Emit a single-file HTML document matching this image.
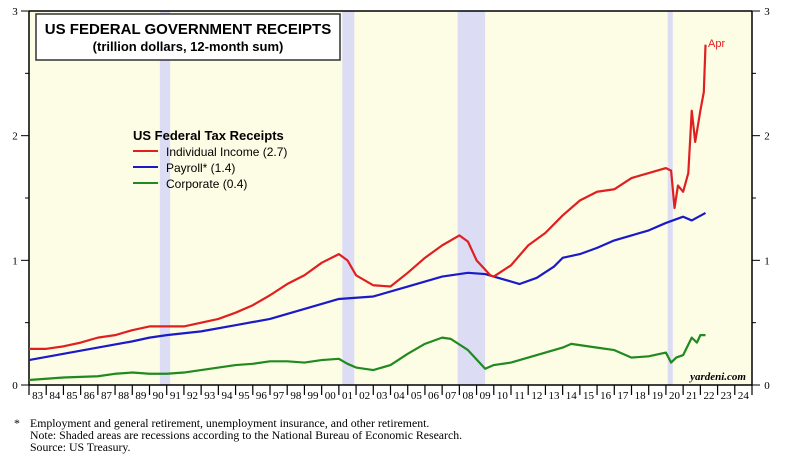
<!DOCTYPE html>
<html><head><meta charset="utf-8"><style>
body{margin:0;background:#fff;width:800px;height:457px;overflow:hidden;font-family:"Liberation Sans",sans-serif}
svg text{font-family:"Liberation Serif",serif}
</style></head><body>
<svg id="chart" width="800" height="457">
<rect x="29" y="11" width="723" height="374" fill="#fdfde6"/>
<g id="rec"></g><g id="axes"></g><g id="lines"></g>
<rect x="36" y="14" width="304" height="46" fill="#fff" stroke="#333" stroke-width="1.5"/>
<text x="188" y="34" text-anchor="middle" style="font-family:'Liberation Sans',sans-serif;font-weight:bold;font-size:15px">US FEDERAL GOVERNMENT RECEIPTS</text>
<text x="188" y="51" text-anchor="middle" style="font-family:'Liberation Sans',sans-serif;font-weight:bold;font-size:13px">(trillion dollars, 12-month sum)</text>
<g style="font-family:'Liberation Sans',sans-serif">
<text x="133" y="140" style="font-family:'Liberation Sans',sans-serif;font-weight:bold;font-size:13px">US Federal Tax Receipts</text>
<line x1="133" y1="151" x2="158" y2="151" stroke="#e02020" stroke-width="2"/>
<text x="166" y="156" style="font-family:'Liberation Sans',sans-serif;font-size:12px">Individual Income (2.7)</text>
<line x1="133" y1="167" x2="158" y2="167" stroke="#1a1ac8" stroke-width="2"/>
<text x="166" y="172" style="font-family:'Liberation Sans',sans-serif;font-size:12px">Payroll* (1.4)</text>
<line x1="133" y1="183" x2="158" y2="183" stroke="#208a20" stroke-width="2"/>
<text x="166" y="188" style="font-family:'Liberation Sans',sans-serif;font-size:12px">Corporate (0.4)</text>
</g>
<text x="708" y="47" fill="#e02020" style="font-family:'Liberation Sans',sans-serif;font-size:11px">Apr</text>
<text x="746" y="380" text-anchor="end" style="font-weight:bold;font-style:italic;font-size:11px">yardeni.com</text>
<g font-size="11.8px">
<text x="14" y="427">*</text>
<text x="30" y="427">Employment and general retirement, unemployment insurance, and other retirement.</text>
<text x="30" y="439">Note: Shaded areas are recessions according to the National Bureau of Economic Research.</text>
<text x="30" y="451">Source: US Treasury.</text>
</g>
</svg>
<script>
const recessions=[[1990.6,1991.2],[2001.2,2001.9],[2007.9,2009.5],[2020.1,2020.4]];
const yTicks=[0,1,2,3];
const individualX=[1983,1984,1985,1986,1987,1988,1989,1990,1991,1992,1993,1994,1995,1996,1997,1998,1999,2000,2001,2001.5,2002,2003,2004,2005,2006,2007,2008,2008.5,2009,2009.8,2010,2011,2012,2013,2014,2015,2016,2017,2018,2019,2020,2020.3,2020.5,2020.7,2021,2021.3,2021.5,2021.7,2022,2022.2,2022.3];
const individualY=[0.29,0.29,0.31,0.34,0.38,0.40,0.44,0.47,0.47,0.47,0.50,0.53,0.58,0.64,0.72,0.81,0.88,0.98,1.05,1.0,0.88,0.80,0.79,0.90,1.02,1.12,1.20,1.15,1.0,0.88,0.87,0.96,1.12,1.22,1.36,1.48,1.55,1.57,1.66,1.70,1.74,1.72,1.42,1.60,1.55,1.70,2.2,1.95,2.2,2.35,2.73];
const payrollX=[1983,1985,1987,1989,1990,1991,1993,1995,1997,1999,2001,2003,2005,2007,2008.5,2009.5,2010.5,2011.5,2012.5,2013.5,2014,2015,2016,2017,2018,2019,2020,2021,2021.5,2022.3];
const payrollY=[0.20,0.25,0.30,0.35,0.38,0.40,0.43,0.48,0.53,0.61,0.69,0.71,0.79,0.87,0.90,0.89,0.85,0.81,0.86,0.95,1.02,1.05,1.10,1.16,1.20,1.24,1.30,1.35,1.32,1.38];
const corporateX=[1983,1984,1985,1987,1988,1989,1990,1991,1992,1993,1994,1995,1996,1997,1998,1999,2000,2001,2001.5,2002,2003,2004,2005,2006,2007,2007.5,2008.5,2009.5,2010,2011,2012,2013,2014,2014.5,2015,2016,2017,2018,2019,2020,2020.3,2020.6,2021,2021.5,2021.8,2022,2022.3];
const corporateY=[0.04,0.05,0.06,0.07,0.09,0.10,0.09,0.09,0.10,0.12,0.14,0.16,0.17,0.19,0.19,0.18,0.20,0.21,0.17,0.14,0.12,0.16,0.25,0.33,0.38,0.37,0.28,0.13,0.16,0.18,0.22,0.26,0.30,0.33,0.32,0.30,0.28,0.22,0.23,0.26,0.18,0.22,0.24,0.38,0.34,0.40,0.40];
const L=29,R=752,T=11,B=385,X0=1983,X1=2025,YMAX=3;
const NS="http://www.w3.org/2000/svg";
const xs=v=>L+(v-X0)/(X1-X0)*(R-L);
const ys=v=>B-v/YMAX*(B-T);
function mk(tag,attrs,parent,txt){const e=document.createElementNS(NS,tag);for(const k in attrs)e.setAttribute(k,attrs[k]);if(txt!=null)e.textContent=txt;parent.appendChild(e);return e;}
const rec=document.getElementById('rec'),ax=document.getElementById('axes'),ln=document.getElementById('lines');
recessions.forEach(r=>{
 const e=mk('rect',{x:xs(r[0]),y:T,width:xs(r[1])-xs(r[0]),height:B-T,fill:'#dcdcf5'},rec);
 
 
});
let a=mk('line',{x1:L,y1:T,x2:L,y2:B,stroke:'#000','stroke-width':1.5},ax);

a=mk('line',{x1:R,y1:T,x2:R,y2:B,stroke:'#000','stroke-width':1.5},ax);

a=mk('line',{x1:L,y1:T,x2:R,y2:T,stroke:'#000','stroke-width':1.5},ax);

a=mk('line',{x1:L,y1:B,x2:R,y2:B,stroke:'#000','stroke-width':1.5},ax);

yTicks.forEach(t=>{
 mk('line',{x1:L-8,y1:ys(t),x2:L,y2:ys(t),stroke:'#000'},ax);
 mk('line',{x1:R,y1:ys(t),x2:R+8,y2:ys(t),stroke:'#000'},ax);
 const l=mk('text',{x:15,y:ys(t)+4,'font-size':'11px','text-anchor':'middle'},ax,t);
 
 const r=mk('text',{x:767,y:ys(t)+4,'font-size':'11px','text-anchor':'middle'},ax,t);
 
});
[0.5,1.5,2.5].forEach(t=>{mk('line',{x1:L-4,y1:ys(t),x2:L,y2:ys(t),stroke:'#000'},ax);mk('line',{x1:R,y1:ys(t),x2:R+4,y2:ys(t),stroke:'#000'},ax);});
for(let y=X0;y<=X1;y++){
 mk('line',{x1:xs(y),y1:B,x2:xs(y),y2:B+10,stroke:'#000','stroke-width':1.2},ax);
 if(y<X1){const t=mk('text',{x:xs(y+0.5),y:B+14,'font-size':'11px','text-anchor':'middle'},ax,String(y%100).padStart(2,'0'));
 }
}
function line(X,Y,color,name){
 const p=mk('polyline',{points:X.map((x,i)=>xs(x)+','+ys(Y[i])).join(' '),fill:'none',stroke:color,'stroke-width':2.2,'stroke-linejoin':'round'},ln);
 
 
}
line(corporateX,corporateY,'#208a20','corporate-line');
line(payrollX,payrollY,'#1a1ac8','payroll-line');
line(individualX,individualY,'#e02020','individual-income-line');
</script>
</body></html>
